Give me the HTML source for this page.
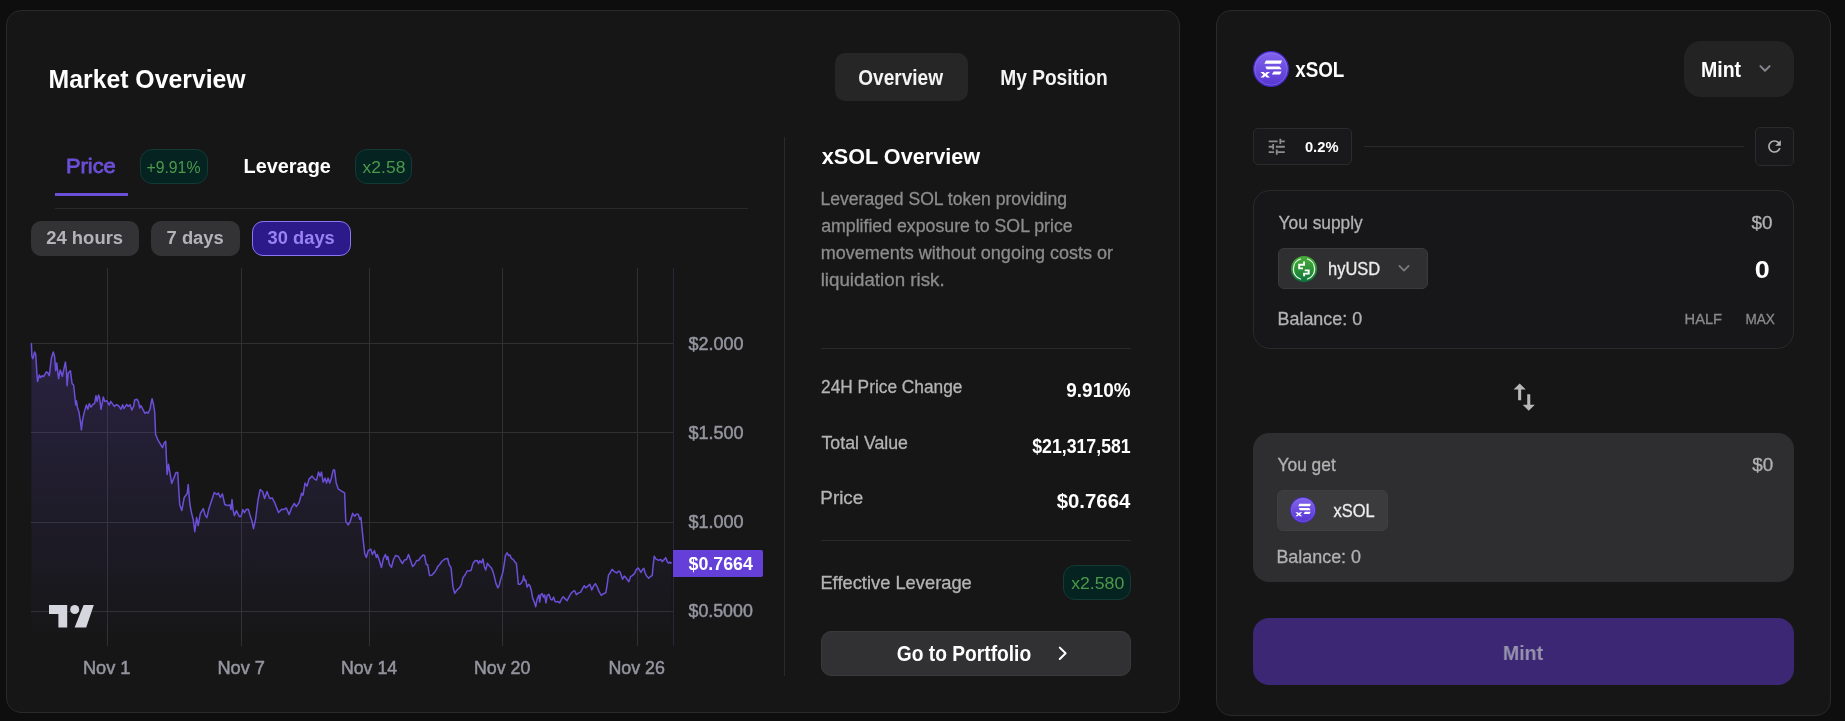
<!DOCTYPE html>
<html><head><meta charset="utf-8"><title>Market Overview</title>
<style>
html,body{margin:0;padding:0;background:#0e0e0e;}
body{width:1845px;height:721px;position:relative;overflow:hidden;font-family:"Liberation Sans",sans-serif;}
#root{position:absolute;left:0;top:0;width:1845px;height:721px;will-change:transform;}
.b{position:absolute;box-sizing:border-box;display:block;}
.t{position:absolute;white-space:nowrap;line-height:1;transform-origin:0 50%;display:block;}
</style></head><body>
<div id="root">
<div class="b" style="left:6px;top:10px;width:1174px;height:703px;background:#161616;border:1px solid #2a2a2a;border-radius:15px;"></div>
<div class="b" style="left:1216px;top:10px;width:615px;height:706px;background:#161616;border:1px solid #2a2a2a;border-radius:15px;"></div>
<span class="t" style="left:48px;top:66px;font-size:26.5px;font-weight:700;color:#fff;transform:translateX(0.54px) scaleX(0.9357);">Market Overview</span>
<div class="b" style="left:835px;top:53px;width:133px;height:48px;background:#262626;border-radius:10px;"></div>
<span class="t" style="left:858px;top:67px;font-size:21.2px;font-weight:700;color:#f4f4f4;transform:translateX(0.22px) scaleX(0.8993);">Overview</span>
<span class="t" style="left:1000px;top:67px;font-size:21.2px;font-weight:700;color:#f4f4f4;transform:translateX(0.22px) scaleX(0.9039);">My Position</span>
<span class="t" style="left:66px;top:155px;font-size:21px;font-weight:400;color:#6c4fd8;transform:translateX(0.01px) scaleX(1.0397);-webkit-text-stroke:0.8px #6c4fd8;">Price</span>
<div class="b" style="left:55px;top:193px;width:73px;height:3px;background:#6c4fd8;"></div>
<div class="b" style="left:140px;top:149px;width:68px;height:35px;background:#042321;border:1px solid #143a36;border-radius:12px;"></div>
<span class="t" style="left:146px;top:160px;font-size:16.8px;font-weight:400;color:#4c9a4a;transform:translateX(0.43px) scaleX(0.9416);">+9.91%</span>
<span class="t" style="left:243px;top:156px;font-size:20.5px;font-weight:700;color:#fff;transform:translateX(0.47px) scaleX(0.9709);">Leverage</span>
<div class="b" style="left:355px;top:149px;width:57px;height:35px;background:#042321;border:1px solid #143a36;border-radius:12px;"></div>
<span class="t" style="left:362px;top:160px;font-size:16.8px;font-weight:400;color:#4c9a4a;transform:translateX(0.60px) scaleX(1.0413);">x2.58</span>
<div class="b" style="left:55px;top:208px;width:693px;height:1px;background:#2a2a2a;"></div>
<div class="b" style="left:31px;top:221px;width:108px;height:35px;background:#333335;border-radius:10px;"></div>
<span class="t" style="left:46px;top:229px;font-size:18px;font-weight:700;color:#b4b4b8;transform:translateX(0.26px) scaleX(1.0235);">24 hours</span>
<div class="b" style="left:151px;top:221px;width:89px;height:35px;background:#333335;border-radius:10px;"></div>
<span class="t" style="left:166px;top:229px;font-size:18px;font-weight:700;color:#b4b4b8;transform:translateX(0.61px) scaleX(1.0195);">7 days</span>
<div class="b" style="left:252px;top:221px;width:99px;height:35px;background:#2c1a8a;border:1px solid #8b75f0;border-radius:11px;"></div>
<span class="t" style="left:267px;top:229px;font-size:18px;font-weight:700;color:#9882f4;transform:translateX(0.58px) scaleX(1.0168);">30 days</span>
<div class="b" style="left:784px;top:137px;width:1px;height:539px;background:#2a2a2a;"></div>
<svg class="b" style="left:0;top:0" width="800" height="721" viewBox="0 0 800 721"><defs><linearGradient id="ag" x1="0" y1="268" x2="0" y2="646" gradientUnits="userSpaceOnUse"><stop offset="0" stop-color="#6c4fd8" stop-opacity="0.28"/><stop offset="1" stop-color="#6c4fd8" stop-opacity="0.0"/></linearGradient></defs><line x1="107.5" y1="268" x2="107.5" y2="646" stroke="#303033" stroke-width="1"/><line x1="241.5" y1="268" x2="241.5" y2="646" stroke="#303033" stroke-width="1"/><line x1="369.5" y1="268" x2="369.5" y2="646" stroke="#303033" stroke-width="1"/><line x1="502.5" y1="268" x2="502.5" y2="646" stroke="#303033" stroke-width="1"/><line x1="637.5" y1="268" x2="637.5" y2="646" stroke="#303033" stroke-width="1"/><line x1="31" y1="343.5" x2="673" y2="343.5" stroke="#303033" stroke-width="1"/><line x1="31" y1="432.5" x2="673" y2="432.5" stroke="#303033" stroke-width="1"/><line x1="31" y1="522.5" x2="673" y2="522.5" stroke="#303033" stroke-width="1"/><line x1="31" y1="611.5" x2="673" y2="611.5" stroke="#303033" stroke-width="1"/><line x1="673.5" y1="268" x2="673.5" y2="646" stroke="#28263c" stroke-width="1"/><path d="M31.4,343.6 L31.9,356.4 L32.9,358.6 L34.6,351.9 L35.7,354.3 L37.1,376.4 L37.6,381.4 L39.3,375.0 L40.7,377.6 L42.1,375.7 L43.6,376.7 L46.4,371.9 L47.9,372.9 L49.3,375.7 L51.4,357.9 L53.3,351.9 L54.6,356.4 L55.7,370.7 L56.7,362.9 L58.6,378.6 L60.3,370.0 L62.4,376.4 L64.3,367.1 L65.4,362.1 L66.4,370.7 L67.1,385.7 L68.3,372.9 L70.4,370.7 L72.1,383.6 L73.6,385.0 L75.0,397.9 L75.7,405.0 L76.4,400.7 L77.6,407.9 L79.0,412.1 L80.7,423.6 L81.4,430.0 L82.4,420.7 L84.3,412.1 L86.4,405.0 L87.9,409.3 L89.3,403.6 L91.0,407.1 L92.9,404.3 L94.6,403.6 L96.0,395.7 L97.1,401.4 L98.6,395.0 L99.6,397.9 L101.0,409.3 L103.3,397.1 L104.7,401.4 L106.7,400.7 L109.3,405.0 L110.7,401.4 L114.3,406.4 L116.4,404.7 L118.6,405.7 L121.0,409.3 L122.6,404.7 L123.9,408.6 L126.7,404.3 L128.1,406.4 L130.0,404.7 L131.9,410.0 L133.6,406.4 L134.7,400.0 L137.1,399.3 L138.6,402.1 L139.7,407.9 L141.0,405.7 L142.9,409.3 L145.0,413.3 L146.7,412.1 L148.1,413.3 L150.0,409.3 L151.4,401.4 L152.1,398.8 L153.6,405.0 L154.7,412.1 L155.6,434.2 L158.0,440.2 L162.5,447.7 L164.0,443.2 L165.7,441.2 L167.1,474.4 L168.5,464.3 L171.7,483.4 L174.1,477.4 L176.1,472.4 L177.7,472.4 L179.7,504.5 L181.8,510.6 L184.2,497.5 L187.2,493.5 L188.2,484.4 L189.8,503.5 L191.2,511.6 L193.2,519.6 L194.8,531.7 L196.6,517.6 L198.2,525.6 L200.3,513.6 L203.3,508.6 L205.3,515.6 L206.9,517.6 L208.7,509.6 L211.3,501.5 L214.3,492.5 L216.7,494.5 L218.3,493.1 L220.4,497.5 L222.4,493.9 L224.8,504.5 L227.4,505.6 L230.0,505.1 L231.0,509.6 L232.0,499.5 L233.0,509.6 L234.4,515.6 L236.4,510.6 L239.4,516.6 L240.9,516.6 L242.9,509.6 L244.5,512.6 L246.5,509.2 L248.5,509.6 L250.1,515.6 L252.1,521.6 L253.5,528.7 L255.5,519.6 L258.1,499.5 L260.2,489.5 L262.6,491.5 L264.6,498.5 L267.0,491.5 L269.6,498.5 L272.2,497.9 L274.6,502.5 L278.6,512.6 L281.7,509.2 L283.7,509.6 L286.3,508.0 L289.1,514.6 L291.7,507.6 L294.3,503.5 L296.3,506.6 L299.1,502.5 L301.6,493.2 L303.0,495.2 L305.0,483.1 L307.0,486.2 L309.0,479.1 L312.1,476.1 L314.5,479.1 L316.5,480.1 L318.5,472.1 L320.1,476.1 L321.5,472.1 L323.1,482.1 L325.1,478.1 L326.5,483.1 L328.1,478.1 L329.7,483.1 L331.2,478.7 L333.2,470.1 L334.6,470.1 L336.2,483.1 L338.2,488.8 L341.2,490.8 L344.6,492.8 L345.8,521.3 L348.2,524.9 L350.3,521.3 L352.7,513.3 L354.7,516.3 L356.3,514.3 L358.3,514.3 L359.7,519.3 L360.9,517.3 L362.7,535.4 L364.7,553.5 L366.3,557.5 L368.3,550.5 L370.8,549.1 L372.4,554.5 L374.4,550.5 L376.4,557.5 L377.4,554.5 L379.4,560.5 L381.4,567.6 L383.4,558.5 L385.4,554.5 L386.8,559.5 L387.8,556.5 L389.4,564.5 L391.5,567.2 L393.5,559.5 L395.5,555.5 L398.5,556.5 L400.5,560.5 L402.5,563.5 L404.5,559.9 L406.5,559.5 L408.5,554.5 L410.6,560.5 L412.6,566.6 L414.6,564.5 L416.6,560.5 L418.6,560.5 L420.6,557.5 L423.0,555.1 L424.6,555.5 L426.2,564.5 L427.6,564.5 L429.6,575.6 L431.7,575.2 L434.3,572.6 L436.3,569.6 L437.7,566.6 L439.7,564.5 L441.7,561.5 L444.7,559.1 L447.7,558.5 L449.1,564.5 L451.1,567.9 L452.9,586.4 L454.7,593.3 L457.1,590.0 L460.0,587.1 L461.4,584.3 L462.9,577.9 L465.0,575.0 L467.1,571.0 L469.3,570.7 L471.1,570.4 L472.9,563.6 L475.0,560.7 L477.1,560.4 L478.6,563.6 L479.7,560.7 L481.4,562.9 L482.9,559.0 L484.3,566.4 L485.7,570.0 L487.4,563.3 L489.3,565.7 L491.4,567.9 L492.9,571.4 L494.3,576.4 L496.0,583.6 L497.9,587.9 L499.3,585.0 L500.7,579.3 L502.9,572.1 L504.3,563.6 L505.4,555.7 L507.1,552.9 L508.6,555.7 L510.0,555.0 L511.4,558.6 L513.1,559.3 L515.0,562.1 L516.4,563.6 L517.4,573.6 L518.3,584.3 L520.0,584.3 L521.4,582.9 L522.9,580.0 L523.6,575.7 L524.6,580.7 L525.7,580.0 L527.1,587.1 L528.6,584.3 L530.0,585.7 L531.4,590.7 L532.6,597.9 L534.3,602.1 L535.7,606.7 L537.1,599.3 L538.9,595.0 L539.7,602.1 L540.7,595.0 L542.1,593.6 L543.6,597.1 L544.6,595.0 L546.0,602.9 L547.1,595.7 L548.9,594.3 L550.7,599.3 L552.1,600.0 L553.6,597.1 L555.0,601.4 L556.4,602.1 L557.9,601.4 L559.7,602.9 L561.4,599.3 L563.1,596.7 L565.0,598.6 L567.1,600.7 L569.3,596.4 L571.4,592.9 L573.6,591.0 L574.7,590.7 L576.4,594.7 L578.6,592.9 L580.7,592.1 L582.1,589.3 L584.3,585.7 L585.7,587.9 L587.9,586.1 L589.7,584.3 L590.6,586.5 L591.8,590.0 L593.6,586.0 L595.4,583.7 L597.2,586.9 L599.0,591.4 L601.3,595.5 L603.5,593.7 L605.8,592.8 L607.1,585.1 L608.5,575.2 L610.3,572.5 L612.1,569.3 L614.3,571.6 L616.6,572.9 L618.9,571.1 L620.2,572.0 L621.6,576.5 L622.6,579.2 L624.3,576.1 L626.1,577.9 L628.8,581.7 L630.6,576.5 L632.4,575.6 L634.6,573.4 L636.4,569.3 L638.2,568.0 L639.6,570.2 L640.9,572.5 L642.3,569.8 L643.9,568.4 L645.0,572.5 L646.4,575.6 L648.6,578.3 L650.4,576.5 L652.2,575.6 L653.1,566.1 L654.2,556.2 L655.8,558.9 L658.5,560.3 L660.8,559.4 L662.1,561.6 L664.4,559.4 L665.7,557.6 L667.5,562.1 L668.9,563.3 L669.8,562.1 L671.2,563.0 L671.2,646 L31.4,646 Z" fill="url(#ag)"/><path d="M31.4,343.6 L31.9,356.4 L32.9,358.6 L34.6,351.9 L35.7,354.3 L37.1,376.4 L37.6,381.4 L39.3,375.0 L40.7,377.6 L42.1,375.7 L43.6,376.7 L46.4,371.9 L47.9,372.9 L49.3,375.7 L51.4,357.9 L53.3,351.9 L54.6,356.4 L55.7,370.7 L56.7,362.9 L58.6,378.6 L60.3,370.0 L62.4,376.4 L64.3,367.1 L65.4,362.1 L66.4,370.7 L67.1,385.7 L68.3,372.9 L70.4,370.7 L72.1,383.6 L73.6,385.0 L75.0,397.9 L75.7,405.0 L76.4,400.7 L77.6,407.9 L79.0,412.1 L80.7,423.6 L81.4,430.0 L82.4,420.7 L84.3,412.1 L86.4,405.0 L87.9,409.3 L89.3,403.6 L91.0,407.1 L92.9,404.3 L94.6,403.6 L96.0,395.7 L97.1,401.4 L98.6,395.0 L99.6,397.9 L101.0,409.3 L103.3,397.1 L104.7,401.4 L106.7,400.7 L109.3,405.0 L110.7,401.4 L114.3,406.4 L116.4,404.7 L118.6,405.7 L121.0,409.3 L122.6,404.7 L123.9,408.6 L126.7,404.3 L128.1,406.4 L130.0,404.7 L131.9,410.0 L133.6,406.4 L134.7,400.0 L137.1,399.3 L138.6,402.1 L139.7,407.9 L141.0,405.7 L142.9,409.3 L145.0,413.3 L146.7,412.1 L148.1,413.3 L150.0,409.3 L151.4,401.4 L152.1,398.8 L153.6,405.0 L154.7,412.1 L155.6,434.2 L158.0,440.2 L162.5,447.7 L164.0,443.2 L165.7,441.2 L167.1,474.4 L168.5,464.3 L171.7,483.4 L174.1,477.4 L176.1,472.4 L177.7,472.4 L179.7,504.5 L181.8,510.6 L184.2,497.5 L187.2,493.5 L188.2,484.4 L189.8,503.5 L191.2,511.6 L193.2,519.6 L194.8,531.7 L196.6,517.6 L198.2,525.6 L200.3,513.6 L203.3,508.6 L205.3,515.6 L206.9,517.6 L208.7,509.6 L211.3,501.5 L214.3,492.5 L216.7,494.5 L218.3,493.1 L220.4,497.5 L222.4,493.9 L224.8,504.5 L227.4,505.6 L230.0,505.1 L231.0,509.6 L232.0,499.5 L233.0,509.6 L234.4,515.6 L236.4,510.6 L239.4,516.6 L240.9,516.6 L242.9,509.6 L244.5,512.6 L246.5,509.2 L248.5,509.6 L250.1,515.6 L252.1,521.6 L253.5,528.7 L255.5,519.6 L258.1,499.5 L260.2,489.5 L262.6,491.5 L264.6,498.5 L267.0,491.5 L269.6,498.5 L272.2,497.9 L274.6,502.5 L278.6,512.6 L281.7,509.2 L283.7,509.6 L286.3,508.0 L289.1,514.6 L291.7,507.6 L294.3,503.5 L296.3,506.6 L299.1,502.5 L301.6,493.2 L303.0,495.2 L305.0,483.1 L307.0,486.2 L309.0,479.1 L312.1,476.1 L314.5,479.1 L316.5,480.1 L318.5,472.1 L320.1,476.1 L321.5,472.1 L323.1,482.1 L325.1,478.1 L326.5,483.1 L328.1,478.1 L329.7,483.1 L331.2,478.7 L333.2,470.1 L334.6,470.1 L336.2,483.1 L338.2,488.8 L341.2,490.8 L344.6,492.8 L345.8,521.3 L348.2,524.9 L350.3,521.3 L352.7,513.3 L354.7,516.3 L356.3,514.3 L358.3,514.3 L359.7,519.3 L360.9,517.3 L362.7,535.4 L364.7,553.5 L366.3,557.5 L368.3,550.5 L370.8,549.1 L372.4,554.5 L374.4,550.5 L376.4,557.5 L377.4,554.5 L379.4,560.5 L381.4,567.6 L383.4,558.5 L385.4,554.5 L386.8,559.5 L387.8,556.5 L389.4,564.5 L391.5,567.2 L393.5,559.5 L395.5,555.5 L398.5,556.5 L400.5,560.5 L402.5,563.5 L404.5,559.9 L406.5,559.5 L408.5,554.5 L410.6,560.5 L412.6,566.6 L414.6,564.5 L416.6,560.5 L418.6,560.5 L420.6,557.5 L423.0,555.1 L424.6,555.5 L426.2,564.5 L427.6,564.5 L429.6,575.6 L431.7,575.2 L434.3,572.6 L436.3,569.6 L437.7,566.6 L439.7,564.5 L441.7,561.5 L444.7,559.1 L447.7,558.5 L449.1,564.5 L451.1,567.9 L452.9,586.4 L454.7,593.3 L457.1,590.0 L460.0,587.1 L461.4,584.3 L462.9,577.9 L465.0,575.0 L467.1,571.0 L469.3,570.7 L471.1,570.4 L472.9,563.6 L475.0,560.7 L477.1,560.4 L478.6,563.6 L479.7,560.7 L481.4,562.9 L482.9,559.0 L484.3,566.4 L485.7,570.0 L487.4,563.3 L489.3,565.7 L491.4,567.9 L492.9,571.4 L494.3,576.4 L496.0,583.6 L497.9,587.9 L499.3,585.0 L500.7,579.3 L502.9,572.1 L504.3,563.6 L505.4,555.7 L507.1,552.9 L508.6,555.7 L510.0,555.0 L511.4,558.6 L513.1,559.3 L515.0,562.1 L516.4,563.6 L517.4,573.6 L518.3,584.3 L520.0,584.3 L521.4,582.9 L522.9,580.0 L523.6,575.7 L524.6,580.7 L525.7,580.0 L527.1,587.1 L528.6,584.3 L530.0,585.7 L531.4,590.7 L532.6,597.9 L534.3,602.1 L535.7,606.7 L537.1,599.3 L538.9,595.0 L539.7,602.1 L540.7,595.0 L542.1,593.6 L543.6,597.1 L544.6,595.0 L546.0,602.9 L547.1,595.7 L548.9,594.3 L550.7,599.3 L552.1,600.0 L553.6,597.1 L555.0,601.4 L556.4,602.1 L557.9,601.4 L559.7,602.9 L561.4,599.3 L563.1,596.7 L565.0,598.6 L567.1,600.7 L569.3,596.4 L571.4,592.9 L573.6,591.0 L574.7,590.7 L576.4,594.7 L578.6,592.9 L580.7,592.1 L582.1,589.3 L584.3,585.7 L585.7,587.9 L587.9,586.1 L589.7,584.3 L590.6,586.5 L591.8,590.0 L593.6,586.0 L595.4,583.7 L597.2,586.9 L599.0,591.4 L601.3,595.5 L603.5,593.7 L605.8,592.8 L607.1,585.1 L608.5,575.2 L610.3,572.5 L612.1,569.3 L614.3,571.6 L616.6,572.9 L618.9,571.1 L620.2,572.0 L621.6,576.5 L622.6,579.2 L624.3,576.1 L626.1,577.9 L628.8,581.7 L630.6,576.5 L632.4,575.6 L634.6,573.4 L636.4,569.3 L638.2,568.0 L639.6,570.2 L640.9,572.5 L642.3,569.8 L643.9,568.4 L645.0,572.5 L646.4,575.6 L648.6,578.3 L650.4,576.5 L652.2,575.6 L653.1,566.1 L654.2,556.2 L655.8,558.9 L658.5,560.3 L660.8,559.4 L662.1,561.6 L664.4,559.4 L665.7,557.6 L667.5,562.1 L668.9,563.3 L669.8,562.1 L671.2,563.0" fill="none" stroke="#6c4fd8" stroke-width="1.5" stroke-linejoin="round" stroke-linecap="round"/><g fill="#d6d6de"><path d="M49,605 H67.2 V627.4 H58.4 V613.9 H49 Z"/><circle cx="74.7" cy="609.5" r="4.5"/><path d="M83.6,605 H93.8 L86.2,627.4 H74.6 Z"/></g></svg>
<span class="t" style="left:688px;top:336px;font-size:17.7px;font-weight:400;color:#9595a0;transform:translateX(0.51px) scaleX(1.0183);-webkit-text-stroke:0.5px #9595a0;">$2.000</span>
<span class="t" style="left:688px;top:425px;font-size:17.7px;font-weight:400;color:#9595a0;transform:translateX(0.51px) scaleX(1.0183);-webkit-text-stroke:0.5px #9595a0;">$1.500</span>
<span class="t" style="left:688px;top:514px;font-size:17.7px;font-weight:400;color:#9595a0;transform:translateX(0.51px) scaleX(1.0183);-webkit-text-stroke:0.5px #9595a0;">$1.000</span>
<span class="t" style="left:688px;top:603px;font-size:17.7px;font-weight:400;color:#9595a0;transform:translateX(0.51px) scaleX(1.0055);-webkit-text-stroke:0.5px #9595a0;">$0.5000</span>
<span class="t" style="left:82px;top:660px;font-size:17.7px;font-weight:400;color:#9595a0;transform:translateX(0.91px) scaleX(1.0296);-webkit-text-stroke:0.5px #9595a0;">Nov 1</span>
<span class="t" style="left:217px;top:660px;font-size:17.7px;font-weight:400;color:#9595a0;transform:translateX(0.40px) scaleX(1.0302);-webkit-text-stroke:0.5px #9595a0;">Nov 7</span>
<span class="t" style="left:340px;top:660px;font-size:17.7px;font-weight:400;color:#9595a0;transform:translateX(0.94px) scaleX(1.0023);-webkit-text-stroke:0.5px #9595a0;">Nov 14</span>
<span class="t" style="left:473px;top:660px;font-size:17.7px;font-weight:400;color:#9595a0;transform:translateX(0.94px) scaleX(1.0055);-webkit-text-stroke:0.5px #9595a0;">Nov 20</span>
<span class="t" style="left:608px;top:660px;font-size:17.7px;font-weight:400;color:#9595a0;transform:translateX(0.44px) scaleX(1.0071);-webkit-text-stroke:0.5px #9595a0;">Nov 26</span>
<div class="b" style="left:673px;top:550px;width:90px;height:27px;background:#6440d8;border-radius:0 2px 2px 0;"></div>
<span class="t" style="left:688px;top:556px;font-size:17.7px;font-weight:700;color:#fff;transform:translateX(0.57px) scaleX(1.0061);">$0.7664</span>
<span class="t" style="left:821px;top:146px;font-size:22.5px;font-weight:700;color:#fff;transform:translateX(0.75px) scaleX(0.9612);">xSOL Overview</span>
<span class="t" style="left:820px;top:191px;font-size:17.5px;font-weight:400;color:#8c8c8c;transform:translateX(0.46px) scaleX(1.0044);-webkit-text-stroke:0.3px #8c8c8c;">Leveraged SOL token providing</span>
<span class="t" style="left:821px;top:218px;font-size:17.5px;font-weight:400;color:#8c8c8c;transform:translateX(0.15px) scaleX(1.0127);-webkit-text-stroke:0.3px #8c8c8c;">amplified exposure to SOL price</span>
<span class="t" style="left:820px;top:245px;font-size:17.5px;font-weight:400;color:#8c8c8c;transform:translateX(0.70px) scaleX(1.0290);-webkit-text-stroke:0.3px #8c8c8c;">movements without ongoing costs or</span>
<span class="t" style="left:820px;top:272px;font-size:17.5px;font-weight:400;color:#8c8c8c;transform:translateX(0.64px) scaleX(1.0711);-webkit-text-stroke:0.3px #8c8c8c;">liquidation risk.</span>
<div class="b" style="left:821px;top:348px;width:310px;height:1px;background:#2a2a2a;"></div>
<span class="t" style="left:821px;top:379px;font-size:17.8px;font-weight:400;color:#b4b4b4;transform:translateX(0.03px) scaleX(0.9734);-webkit-text-stroke:0.3px #b4b4b4;">24H Price Change</span>
<span class="t" style="left:1066px;top:380px;font-size:20.8px;font-weight:700;color:#fff;transform:translateX(0.34px) scaleX(0.9094);">9.910%</span>
<span class="t" style="left:821px;top:435px;font-size:17.8px;font-weight:400;color:#b4b4b4;transform:translateX(0.50px) scaleX(0.9981);-webkit-text-stroke:0.3px #b4b4b4;">Total Value</span>
<span class="t" style="left:1032px;top:436px;font-size:20.8px;font-weight:700;color:#fff;transform:translateX(0.17px) scaleX(0.8519);">$21,317,581</span>
<span class="t" style="left:820px;top:490px;font-size:17.8px;font-weight:400;color:#b4b4b4;transform:translateX(0.35px) scaleX(1.0584);-webkit-text-stroke:0.3px #b4b4b4;">Price</span>
<span class="t" style="left:1056px;top:491px;font-size:20.8px;font-weight:700;color:#fff;transform:translateX(0.73px) scaleX(0.9786);">$0.7664</span>
<div class="b" style="left:821px;top:540px;width:310px;height:1px;background:#2a2a2a;"></div>
<span class="t" style="left:820px;top:575px;font-size:17.8px;font-weight:400;color:#b4b4b4;transform:translateX(0.40px) scaleX(1.0303);-webkit-text-stroke:0.3px #b4b4b4;">Effective Leverage</span>
<div class="b" style="left:1063px;top:565px;width:68px;height:35px;background:#042321;border:1px solid #143a36;border-radius:12px;"></div>
<span class="t" style="left:1071px;top:575px;font-size:17px;font-weight:400;color:#4c9a4a;transform:translateX(0.20px) scaleX(1.0400);">x2.580</span>
<div class="b" style="left:821px;top:631px;width:310px;height:45px;background:#313133;border:1px solid #3a3a3c;border-radius:10px;"></div>
<span class="t" style="left:896px;top:643px;font-size:21.8px;font-weight:700;color:#fff;transform:translateX(0.81px) scaleX(0.8806);">Go to Portfolio</span>
<svg class="b" style="left:1054px;top:644px" width="18" height="18" viewBox="0 0 18 18"><path d="M5.8,3.6 L11.6,9.3 L5.8,15" fill="none" stroke="#fff" stroke-width="2" stroke-linecap="round" stroke-linejoin="round"/></svg>
<svg class="b" style="left:1253.0px;top:51.0px" width="36" height="36" viewBox="0 0 36 36"><defs><linearGradient id="xg36" x1="0" y1="0" x2="0" y2="1"><stop offset="0" stop-color="#8364ee"/><stop offset="1" stop-color="#5535cf"/></linearGradient></defs><circle cx="18" cy="18" r="17.4" fill="url(#xg36)" stroke="#4326c4" stroke-width="1.2"/><circle cx="18" cy="18" r="16.2" fill="none" stroke="#9a86f5" stroke-opacity="0.55" stroke-width="0.8"/><g fill="#fff"><path d="M13,9.4 H29 L27.6,12.7 H11.4 Z"/><path d="M12.4,15.4 H26.6 L28.6,18.3 H13.6 Z"/><path d="M20.6,20.4 H28.6 L27,23.4 H18.8 Z"/><path d="M7.4,21.1 H10.7 L12.2,22.6 L13.7,21.1 H17 L13.9,23.8 L17,26.5 H13.7 L12.2,25 L10.7,26.5 H7.4 L10.5,23.8 Z"/></g></svg>
<span class="t" style="left:1295px;top:59px;font-size:21.2px;font-weight:700;color:#fff;transform:translateX(0.17px) scaleX(0.8873);">xSOL</span>
<div class="b" style="left:1684px;top:41px;width:110px;height:56px;background:#232323;border-radius:17px;"></div>
<span class="t" style="left:1700px;top:59px;font-size:21.2px;font-weight:700;color:#fff;transform:translateX(0.99px) scaleX(0.9219);">Mint</span>
<svg class="b" style="left:1756px;top:60px" width="18" height="18" viewBox="0 0 18 18"><path d="M4.4,6.1 L9,10.8 L13.6,6.1" fill="none" stroke="#858590" stroke-width="2" stroke-linecap="round" stroke-linejoin="round"/></svg>
<div class="b" style="left:1253px;top:128px;width:99px;height:37px;background:#19191b;border:1px solid #2b2b2d;border-radius:5px;"></div>
<svg class="b" style="left:1265.8px;top:136px" width="21.5" height="21.5" viewBox="0 0 24 24"><path fill="#8c8c8c" d="M3 17v2h6v-2H3zM3 5v2h10V5H3zm10 16v-2h8v-2h-8v-2h-2v6h2zM7 9v2H3v2h4v2h2V9H7zm14 4v-2H11v2h10zm-6-4h2V7h4V5h-4V3h-2v6z"/></svg>
<span class="t" style="left:1304px;top:139px;font-size:15.3px;font-weight:700;color:#fff;transform:translateX(0.92px) scaleX(0.9626);">0.2%</span>
<div class="b" style="left:1364px;top:146px;width:380px;height:1px;background:#2a2a2a;"></div>
<div class="b" style="left:1755px;top:127px;width:39px;height:39px;background:#19191b;border:1px solid #2b2b2d;border-radius:5px;"></div>
<svg class="b" style="left:1765.2px;top:137.1px" width="19" height="19" viewBox="0 0 24 24"><path fill="#b4b4b4" d="M17.65 6.35C16.2 4.9 14.21 4 12 4c-4.42 0-7.99 3.58-7.99 8s3.57 8 7.99 8c3.73 0 6.84-2.55 7.73-6h-2.08c-.82 2.33-3.04 4-5.65 4-3.31 0-6-2.69-6-6s2.69-6 6-6c1.66 0 3.14.69 4.22 1.78L13 11h7V4l-2.35 2.35z"/></svg>
<div class="b" style="left:1253px;top:190px;width:541px;height:159px;background:#171719;border:1px solid #2a2a2c;border-radius:17px;"></div>
<span class="t" style="left:1278px;top:215px;font-size:17.8px;font-weight:400;color:#b2b2b2;transform:translateX(0.62px) scaleX(0.9740);-webkit-text-stroke:0.3px #b2b2b2;">You supply</span>
<span class="t" style="left:1751px;top:215px;font-size:17.8px;font-weight:400;color:#b2b2b2;transform:translateX(0.50px) scaleX(1.0585);-webkit-text-stroke:0.3px #b2b2b2;">$0</span>
<div class="b" style="left:1278px;top:248px;width:150px;height:41px;background:#2f2f31;border:1px solid #3a3a3c;border-radius:6px;"></div>
<svg class="b" style="left:1291px;top:255.5px" width="26" height="26" viewBox="0 0 26 26"><defs><linearGradient id="hg" x1="0" y1="0" x2="0" y2="1"><stop offset="0" stop-color="#4aab3a"/><stop offset="0.55" stop-color="#2a9038"/><stop offset="1" stop-color="#0c7340"/></linearGradient></defs><circle cx="13" cy="13" r="13" fill="url(#hg)"/><path d="M10,2.75 A10.7,10.7 0 0 0 10,23.25" fill="none" stroke="#e2ffdc" stroke-width="1.3"/><path d="M16,2.75 A10.7,10.7 0 0 1 16,23.25" fill="none" stroke="#e2ffdc" stroke-width="1.3"/><path d="M13.05,5.5 V8.8 H8.2 V12.4 H12" fill="none" stroke="#fff" stroke-width="1.9"/><path d="M13.1,20.3 V17.6 H17.7 V14.4 H13.7" fill="none" stroke="#fff" stroke-width="1.9"/></svg>
<span class="t" style="left:1328px;top:261px;font-size:17.5px;font-weight:400;color:#ececec;transform:translateX(0.06px) scaleX(0.9403);-webkit-text-stroke:0.3px #ececec;">hyUSD</span>
<svg class="b" style="left:1394.5px;top:260px" width="18" height="18" viewBox="0 0 18 18"><path d="M4.4,5.9 L9,10.6 L13.6,5.9" fill="none" stroke="#787878" stroke-width="1.9" stroke-linecap="round" stroke-linejoin="round"/></svg>
<span class="t" style="left:1754px;top:258px;font-size:24px;font-weight:700;color:#fff;transform:translateX(0.74px) scaleX(1.1203);">0</span>
<span class="t" style="left:1277px;top:311px;font-size:17.8px;font-weight:400;color:#b2b2b2;transform:translateX(0.53px) scaleX(1.0064);-webkit-text-stroke:0.3px #b2b2b2;">Balance: 0</span>
<span class="t" style="left:1684px;top:312px;font-size:14.5px;font-weight:400;color:#8a8a8a;transform:translateX(0.60px) scaleX(1.0083);-webkit-text-stroke:0.3px #8a8a8a;">HALF</span>
<span class="t" style="left:1745px;top:312px;font-size:14.5px;font-weight:400;color:#8a8a8a;transform:translateX(0.49px) scaleX(0.9356);-webkit-text-stroke:0.3px #8a8a8a;">MAX</span>
<svg class="b" style="left:1505.8px;top:378.8px" width="36.4" height="36.4" viewBox="0 0 24 24"><path fill="#b8b8b8" d="M16 17.01V10h-2v7.01h-3L15 21l4-3.99h-3zM9 3L5 6.99h3V14h2V6.99h3L9 3z"/></svg>
<div class="b" style="left:1253px;top:433px;width:541px;height:149px;background:#2e2e30;border-radius:16px;"></div>
<span class="t" style="left:1277px;top:457px;font-size:17.8px;font-weight:400;color:#b2b2b2;transform:translateX(0.52px) scaleX(0.9755);-webkit-text-stroke:0.3px #b2b2b2;">You get</span>
<span class="t" style="left:1752px;top:457px;font-size:17.8px;font-weight:400;color:#b2b2b2;transform:translateX(0.30px) scaleX(1.0585);-webkit-text-stroke:0.3px #b2b2b2;">$0</span>
<div class="b" style="left:1277px;top:490px;width:111px;height:41px;background:#3b3b3e;border:1px solid #3f3f42;border-radius:6px;"></div>
<svg class="b" style="left:1290.2px;top:497.0px" width="26" height="26" viewBox="0 0 36 36"><defs><linearGradient id="xg26" x1="0" y1="0" x2="0" y2="1"><stop offset="0" stop-color="#8364ee"/><stop offset="1" stop-color="#5535cf"/></linearGradient></defs><circle cx="18" cy="18" r="17.4" fill="url(#xg26)" stroke="#4326c4" stroke-width="1.2"/><circle cx="18" cy="18" r="16.2" fill="none" stroke="#9a86f5" stroke-opacity="0.55" stroke-width="0.8"/><g fill="#fff"><path d="M13,9.4 H29 L27.6,12.7 H11.4 Z"/><path d="M12.4,15.4 H26.6 L28.6,18.3 H13.6 Z"/><path d="M20.6,20.4 H28.6 L27,23.4 H18.8 Z"/><path d="M7.4,21.1 H10.7 L12.2,22.6 L13.7,21.1 H17 L13.9,23.8 L17,26.5 H13.7 L12.2,25 L10.7,26.5 H7.4 L10.5,23.8 Z"/></g></svg>
<span class="t" style="left:1333px;top:503px;font-size:17.5px;font-weight:400;color:#ececec;transform:translateX(0.52px) scaleX(0.9371);-webkit-text-stroke:0.3px #ececec;">xSOL</span>
<span class="t" style="left:1276px;top:549px;font-size:17.8px;font-weight:400;color:#b2b2b2;transform:translateX(0.43px) scaleX(1.0064);-webkit-text-stroke:0.3px #b2b2b2;">Balance: 0</span>
<div class="b" style="left:1253px;top:618px;width:541px;height:67px;background:#3b2774;border-radius:16px;"></div>
<span class="t" style="left:1502px;top:642px;font-size:21px;font-weight:700;color:#9893ad;transform:translateX(0.89px) scaleX(0.9302);">Mint</span>
</div>
</body></html>
